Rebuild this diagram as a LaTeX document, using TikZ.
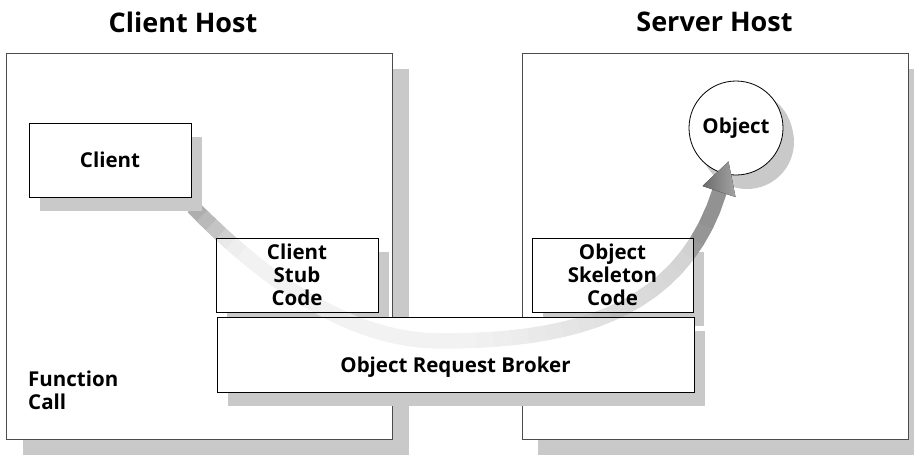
\documentclass[tikz,border=0pt]{standalone}
\usepackage{fontspec}
\setmainfont{Open Sans}
\usetikzlibrary{shadows}

\newcommand{\txtfont}{\fontsize{20.5}{23}\selectfont\bfseries}
\newcommand{\ttlfont}{\fontsize{27}{30}\selectfont\bfseries}

\begin{document}
\begin{tikzpicture}[x=1pt, y=-1pt]
	\tikzset{host/.style={draw=black!70, line width=0.7pt, fill=white, minimum width=386pt, minimum height=386pt,
			drop shadow={shadow xshift=16pt, shadow yshift=-16pt, fill=black!21, opacity=1}}};
	\tikzset{nd/.style={draw=black, line width=0.8pt, fill=white, minimum height=74pt, align=center, font=\txtfont,
			drop shadow={shadow xshift=11pt, shadow yshift=-14pt, fill=black!21, opacity=1}}};
	\tikzset{over/.style={draw=black, line width=0.8pt, fill=white, fill opacity=0.55, text opacity=1,
			minimum height=74pt, align=center, font=\txtfont}};
	\tikzset{ttl/.style={font=\ttlfont}};

	\useasboundingbox (0,0) rectangle (914,456);

	% the two hosts
	\node[host] (clienthost) at (199.5, 246) {};
	\node[host] (serverhost) at (715, 246) {};
	\node[ttl] (clienttitle) at (183, 22) {Client Host};
	\node[ttl] (servertitle) at (714.5, 22) {Server Host};

	% boxes under the call
	\node[nd, minimum width=162pt] (stubback) at (297, 275) {};
	\node[nd, minimum width=161pt] (skeletonback) at (612.5, 275) {};
	\node[nd, minimum width=477pt, minimum height=75pt] (orbback) at (455.5, 354.5) {};
	\node[nd, circle, minimum size=94pt, inner sep=0pt,
		drop shadow={shadow xshift=10pt, shadow yshift=-10pt, fill=black!21, opacity=1}] (object) at (736, 128) {Object};
	\node[font=\txtfont, align=left, anchor=west, inner sep=0pt] (call) at (28, 390) {Function\\Call};

	% the call, from the client round to the object
	\coordinate (from) at (193, 207);
	\coordinate (low) at (440, 341);
	\coordinate (to) at (720, 190);
	\foreach \i in {0,...,20}
		\path (from) .. controls (250, 265) and (340, 341) .. (low) coordinate[pos=\i/20] (r\i);
	\foreach \i in {1,...,20} {
		\pgfmathtruncatemacro\k{20+\i}
		\path (low) .. controls (560, 341) and (680, 320) .. (to) coordinate[pos=\i/20] (r\k);
	}
	\foreach \i in {1,...,39} {
		\pgfmathtruncatemacro\a{\i-1}
		\pgfmathtruncatemacro\c{\i+1}
		\pgfmathsetmacro\u{\i/40}
		\pgfmathsetmacro\pct{\u<0.15 ? 36-170*\u : (\u<0.55 ? 11 : 11+(\u-0.55)*75)}
		\draw[line width=15pt, line join=round, black!\pct] (r\a) -- (r\i) -- (r\c);
	}
	\coordinate (headl) at (702.5, 186);
	\coordinate (headt) at (728.5, 161.5);
	\coordinate (headr) at (735.5, 197);
	\fill[left color=black!58, right color=black!36] (headl) -- (headt) -- (headr) -- cycle;

	% boxes over the call
	\node[over, minimum width=162pt] (stub) at (stubback) {Client\\Stub\\Code};
	\node[over, minimum width=161pt] (skeleton) at (skeletonback) {Object\\Skeleton\\Code};
	\node[over, minimum width=477pt, minimum height=75pt] (orb) at (orbback) {};
	\node[font=\txtfont] (orbtext) at ([yshift=-13pt]orb.center) {Object Request Broker};

	\node[nd, minimum width=162pt] (client) at (110, 160) {Client};
\end{tikzpicture}
\end{document}
